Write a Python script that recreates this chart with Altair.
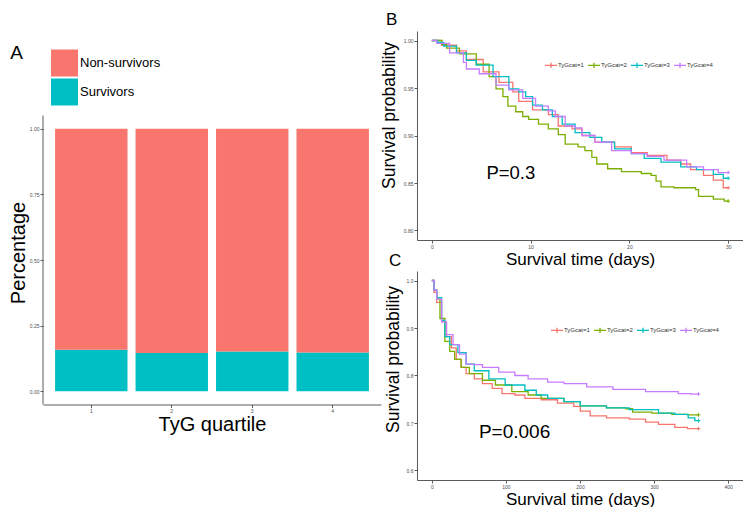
import altair as alt
import pandas as pd

FONT = "Liberation Sans"
AXIS_GREY = "#5a5a5a"
LABEL_GREY = "#4d4d4d"

# ---------------- Panel A: stacked proportions ----------------
quartiles = ["1", "2", "3", "4"]
survivors_share = [0.158, 0.146, 0.152, 0.148]
non_survivors_share = [0.842, 0.854, 0.848, 0.852]
outcome_labels = ["Non-survivors", "Survivors"]
outcome_colors = ["#F8766D", "#00BFC4"]
a_y_ticks = [0.0, 0.25, 0.5, 0.75, 1.0]

# ---------------- Kaplan-Meier groups ----------------
groups = ["TyGcat=1", "TyGcat=2", "TyGcat=3", "TyGcat=4"]
group_colors = ["#F8766D", "#7CAE00", "#00BFC4", "#C77CFF"]

# Panel B: 30-day survival
b_days_1 = [0, 1.0, 2.5, 3.5, 5.2, 6.8, 8.2, 8.8, 10.2, 11.8, 12.8, 14.2, 15.2, 16.5, 18.5, 20.2, 21.8, 23.8, 25.2, 26.2, 27.5, 28.5, 29.5, 30]
b_surv_1 = [1.0, 0.995, 0.989, 0.980, 0.967, 0.956, 0.946, 0.936, 0.927, 0.922, 0.910, 0.907, 0.900, 0.893, 0.888, 0.882, 0.879, 0.874, 0.870, 0.864, 0.858, 0.853, 0.845, 0.845]
b_days_2 = [0, 1.0, 1.5, 2.8, 4.5, 5.8, 6.5, 7.2, 7.7, 8.5, 9.2, 9.8, 10.8, 11.8, 12.8, 13.5, 14.8, 15.5, 16.2, 16.7, 17.8, 19.2, 21.2, 22.2, 22.7, 23.2, 24.5, 26.7, 27.0, 28.5, 29.6, 30]
b_surv_2 = [1.0, 0.996, 0.992, 0.986, 0.975, 0.962, 0.949, 0.941, 0.931, 0.925, 0.920, 0.917, 0.912, 0.907, 0.901, 0.891, 0.888, 0.884, 0.877, 0.870, 0.865, 0.862, 0.860, 0.858, 0.852, 0.846, 0.845, 0.843, 0.836, 0.833, 0.831, 0.831]
b_days_3 = [0, 0.6, 1.2, 2.5, 3.5, 4.5, 6.2, 7.8, 8.8, 9.5, 10.2, 11.2, 12.2, 13.2, 14.5, 16.0, 17.2, 18.5, 20.2, 21.5, 23.2, 25.2, 26.8, 28.5, 29.5, 30]
b_surv_3 = [1.0, 0.998, 0.994, 0.987, 0.979, 0.974, 0.962, 0.949, 0.946, 0.941, 0.932, 0.927, 0.920, 0.912, 0.903, 0.898, 0.893, 0.886, 0.881, 0.876, 0.872, 0.867, 0.864, 0.859, 0.855, 0.855]
b_days_4 = [0, 0.5, 1.8, 3.2, 3.5, 4.8, 6.5, 7.8, 9.2, 10.5, 11.8, 12.5, 13.5, 14.5, 15.2, 16.5, 18.2, 20.2, 21.8, 23.5, 25.8, 27.5, 29.0, 30]
b_surv_4 = [1.0, 0.997, 0.987, 0.977, 0.970, 0.965, 0.953, 0.948, 0.939, 0.931, 0.926, 0.920, 0.910, 0.908, 0.900, 0.893, 0.884, 0.881, 0.878, 0.874, 0.867, 0.864, 0.861, 0.861]
b_x_ticks = [0, 10, 20, 30]
b_y_ticks = [0.80, 0.85, 0.90, 0.95, 1.00]
b_pvalue = ["P=0.3"]
b_pvalue_pos = [8.0, 0.8605]

# Panel C: 1-year survival
c_days_1 = [0, 3, 6.6, 13.2, 19.8, 26.4, 33, 39.6, 46.3, 57.3, 68.3, 81.5, 94.7, 112, 125.6, 147.6, 169.6, 191.6, 200.4, 213.7, 235.7, 266.5, 288.5, 306, 328, 345, 360]
c_surv_1 = [1.0, 0.975, 0.954, 0.913, 0.882, 0.858, 0.834, 0.817, 0.804, 0.793, 0.783, 0.773, 0.762, 0.759, 0.752, 0.749, 0.742, 0.735, 0.725, 0.715, 0.711, 0.708, 0.702, 0.697, 0.691, 0.688, 0.688]
c_days_2 = [0, 3, 6.6, 11, 17.6, 24.2, 30.8, 39.6, 50.7, 68.3, 85.9, 108, 130, 147.6, 178.4, 200.4, 235.7, 262, 271, 297, 323.8, 345, 360]
c_surv_2 = [1.0, 0.98, 0.961, 0.920, 0.872, 0.851, 0.834, 0.817, 0.804, 0.790, 0.780, 0.766, 0.759, 0.752, 0.745, 0.736, 0.732, 0.730, 0.723, 0.721, 0.718, 0.717, 0.717]
c_days_3 = [0, 3, 6.6, 13.2, 17.6, 24.2, 35.2, 46.3, 57.3, 77, 99, 125.6, 141, 156.4, 178.4, 200.4, 235.7, 266.5, 306, 328, 346, 355, 360]
c_surv_3 = [1.0, 0.98, 0.964, 0.916, 0.882, 0.865, 0.848, 0.824, 0.810, 0.793, 0.780, 0.769, 0.759, 0.752, 0.745, 0.736, 0.732, 0.728, 0.721, 0.718, 0.711, 0.705, 0.705]
c_days_4 = [0, 3, 6.6, 13.2, 19.8, 28.6, 37.4, 46.3, 57.3, 68.3, 90.3, 112, 130, 156.4, 178.4, 209, 244.5, 288.5, 332.6, 350, 360]
c_surv_4 = [1.0, 0.98, 0.961, 0.913, 0.886, 0.865, 0.845, 0.824, 0.823, 0.817, 0.807, 0.800, 0.793, 0.786, 0.783, 0.776, 0.771, 0.766, 0.762, 0.761, 0.761]
c_x_ticks = [0, 100, 200, 300, 400]
c_y_ticks = [0.6, 0.7, 0.8, 0.9, 1.0]
c_pvalue = ["P=0.006"]
c_pvalue_pos = [111.7, 0.6806]

# panel letters, placed in each panel's data space (outside the plotted range)
b_letter_pos = [-4.64, 1.0168]
c_letter_pos = [-57.8, 1.0305]

CENSOR = "M-1,0L1,0M0,-1L0,1"
LEGEND_SYMBOL = "M-1,0L1,0M0,-0.45L0,0.45"


def km_frame(days_lists, surv_lists):
    rows = []
    for g, d, s in zip(groups, days_lists, surv_lists):
        for dd, ss in zip(d, s):
            rows.append({"group": g, "day": dd, "surv": ss})
    return pd.DataFrame(rows)


def end_frame(days_lists, surv_lists):
    return pd.DataFrame({
        "group": groups,
        "day": [d[-1] for d in days_lists],
        "surv": [s[-1] for s in surv_lists],
    })


def km_panel(days_lists, surv_lists, x_dom, y_dom, x_ticks, y_ticks, y_fmt,
             ptext, ppos, pfont, label, label_pos,
             leg_x, leg_y, ytitle_x, ytitle_y, width, height):
    xs = alt.Scale(domain=x_dom, nice=False, zero=False)
    ys = alt.Scale(domain=y_dom, nice=False, zero=False)
    x_axis = alt.Axis(title="Survival time (days)", values=x_ticks, titleFontSize=17,
                      titleY=24, titleBaseline="alphabetic", labelAngle=0)
    y_axis = alt.Axis(title="Survival  probability", values=y_ticks, format=y_fmt,
                      titleFontSize=17.5, titleX=ytitle_x, titleY=ytitle_y,
                      titleAngle=270, titleAlign="center", titleBaseline="alphabetic")
    legend = alt.Legend(orient="none", legendX=leg_x, legendY=leg_y, direction="horizontal",
                        title=None, symbolType=LEGEND_SYMBOL, symbolSize=144,
                        symbolStrokeWidth=1.3, labelFontSize=6, labelFont=FONT,
                        labelColor="#333333", labelOffset=0, columnPadding=1, padding=0)
    color = alt.Color("group:N", scale=alt.Scale(domain=groups, range=group_colors), legend=legend)

    lines = alt.Chart(km_frame(days_lists, surv_lists)).mark_line(
        interpolate="step-after", strokeWidth=1.3
    ).encode(
        x=alt.X("day:Q", scale=xs, axis=x_axis),
        y=alt.Y("surv:Q", scale=ys, axis=y_axis),
        color=color,
    )
    ends = alt.Chart(end_frame(days_lists, surv_lists)).mark_point(
        shape=CENSOR, size=14, filled=False, strokeWidth=1, opacity=1
    ).encode(x="day:Q", y="surv:Q", color=color)
    ptxt = alt.Chart(pd.DataFrame({"day": [ppos[0]], "surv": [ppos[1]], "label": ptext})).mark_text(
        font=FONT, fontSize=pfont, color="black", align="center", baseline="middle"
    ).encode(x="day:Q", y="surv:Q", text="label:N")
    letter = alt.Chart(pd.DataFrame({"day": [label_pos[0]], "surv": [label_pos[1]], "label": [label]})).mark_text(
        font=FONT, fontSize=17, color="black", align="left", baseline="alphabetic"
    ).encode(x="day:Q", y="surv:Q", text="label:N")
    return alt.layer(lines, ends, ptxt, letter).properties(width=width, height=height)


# ---------------- Panel A chart ----------------
dfA = pd.DataFrame({
    "quartile": quartiles + quartiles,
    "outcome": [outcome_labels[1]] * 4 + [outcome_labels[0]] * 4,
    "share": survivors_share + non_survivors_share,
    "stack_order": [0] * 4 + [1] * 4,
})

A_W, A_H = 338, 373.5
A_TOP = 1.3717   # the panel's frame reaches above the bars to hold its legend and letter
ya = alt.Scale(domain=[-0.05, A_TOP], nice=False, zero=False)
xa = alt.Scale(domain=quartiles, paddingInner=0.1, paddingOuter=0.15)

bars = alt.Chart(dfA).mark_bar().encode(
    x=alt.X("quartile:N", sort=quartiles, scale=xa,
            axis=alt.Axis(title="TyG quartile", labelAngle=0, titleFontSize=20,
                          titleY=25.5, titleBaseline="alphabetic")),
    y=alt.Y("share:Q", stack="zero", scale=ya,
            axis=alt.Axis(title="Percentage", values=a_y_ticks, format=".2f", titleFontSize=20,
                          domain=False, titleX=-18.5, titleY=221.5, titleAngle=270,
                          titleAlign="center", titleBaseline="alphabetic")),
    color=alt.Color("outcome:N", scale=alt.Scale(domain=outcome_labels, range=outcome_colors),
                    legend=alt.Legend(orient="none", legendX=8, legendY=18.5, title=None,
                                      symbolType="square", symbolSize=729, symbolStrokeWidth=0,
                                      symbolOpacity=1, labelFontSize=13, labelFont=FONT,
                                      labelColor="black", labelOffset=2, rowPadding=2, padding=0)),
    order=alt.Order("stack_order:Q", sort="ascending"),
)
# y axis line, spanning the expanded 0-1 range only
a_axis_line = alt.Chart(pd.DataFrame({"lo": [-0.05], "hi": [1.05]})).mark_rule(
    color=AXIS_GREY, strokeWidth=1
).encode(x=alt.value(0), y=alt.Y("lo:Q", scale=ya), y2="hi:Q")
a_letter = alt.Chart(pd.DataFrame({"quartile": ["1"], "pos": [1.267], "label": ["A"]})).mark_text(
    font=FONT, fontSize=19, color="black", align="left", baseline="alphabetic", dx=-81
).encode(x=alt.X("quartile:N", scale=xa), y=alt.Y("pos:Q", scale=ya), text="label:N")

chartA = alt.layer(bars, a_axis_line, a_letter).properties(width=A_W, height=A_H)

chartB = km_panel([b_days_1, b_days_2, b_days_3, b_days_4], [b_surv_1, b_surv_2, b_surv_3, b_surv_4],
                  [-1.5, 31.5], [0.79, 1.01], b_x_ticks, b_y_ticks, ".2f",
                  b_pvalue, b_pvalue_pos, 18.5, "B", b_letter_pos, 127, 27, -23, 84, 326, 209)
chartC = km_panel([c_days_1, c_days_2, c_days_3, c_days_4], [c_surv_1, c_surv_2, c_surv_3, c_surv_4],
                  [-20, 420], [0.58, 1.02], c_x_ticks, c_y_ticks, ".1f",
                  c_pvalue, c_pvalue_pos, 19, "C", c_letter_pos, 133, 52, -19, 88, 326, 209)

right = alt.VConcatChart(vconcat=[chartB, chartC], spacing=31, bounds="flush").resolve_scale(
    color="independent").resolve_legend(color="independent")

chart = alt.HConcatChart(hconcat=[chartA, right], spacing=36, bounds="flush",
                         padding={"left": 0, "top": 2, "right": 0, "bottom": 0}).resolve_scale(
    color="independent").resolve_legend(color="independent").configure(
    font=FONT,
).configure_view(stroke=None).configure_axis(
    grid=False, domainColor=AXIS_GREY, domainWidth=1, tickColor=AXIS_GREY, tickSize=3,
    tickWidth=1, labelFontSize=5, labelColor=LABEL_GREY, labelFont=FONT, labelPadding=1,
    titleFont=FONT, titleFontWeight="normal", titleColor="black",
)

chart.save("out.html", embed_options={"renderer": "svg", "actions": False})
